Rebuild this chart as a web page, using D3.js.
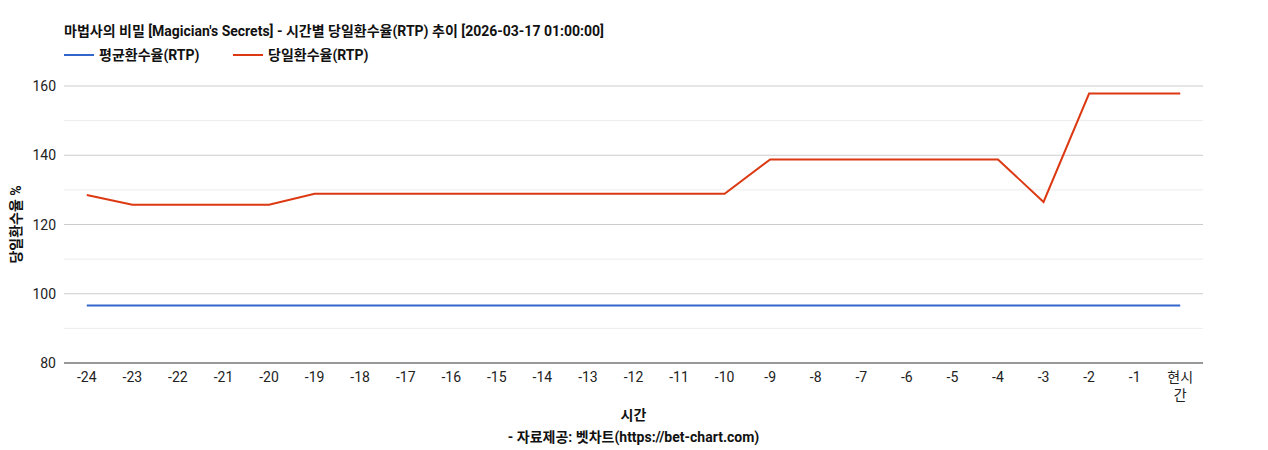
<!DOCTYPE html>
<html><head><meta charset="utf-8">
<script src="https://cdn.jsdelivr.net/npm/d3@7"></script>
<style>body{margin:0;background:#fff;font-family:Roboto,"Noto Sans CJK KR",sans-serif;}</style>
</head><body><div id="chart"></div>
<script>
var hours = ["-24","-23","-22","-21","-20","-19","-18","-17","-16","-15","-14","-13","-12","-11","-10","-9","-8","-7","-6","-5","-4","-3","-2","-1","현시간"];
var avgRtp = [96.6,96.6,96.6,96.6,96.6,96.6,96.6,96.6,96.6,96.6,96.6,96.6,96.6,96.6,96.6,96.6,96.6,96.6,96.6,96.6,96.6,96.6,96.6,96.6,96.6];
var dayRtp = [128.5,125.7,125.7,125.7,125.7,128.9,128.9,128.9,128.9,128.9,128.9,128.9,128.9,128.9,128.9,138.8,138.8,138.8,138.8,138.8,138.8,126.5,157.8,157.8,157.8];
var yTicks = [80,100,120,140,160];
var yMinor = [90,110,130,150];

var W = 1268, H = 450;
var margin = {top: 86, right: 65, bottom: 87, left: 64};
var svg = d3.select("#chart").append("svg").attr("width", W).attr("height", H);

var x = d3.scalePoint().domain(hours).range([margin.left, W - margin.right]).padding(0.5);
var y = d3.scaleLinear().domain([80,160]).range([H - margin.bottom, margin.top]);

// grid
svg.selectAll(".minor").data(yMinor).enter().append("line")
  .attr("x1", margin.left).attr("x2", W - margin.right)
  .attr("y1", d => y(d)).attr("y2", d => y(d)).attr("stroke", "#ececec");
svg.selectAll(".major").data(yTicks).enter().append("line")
  .attr("x1", margin.left).attr("x2", W - margin.right)
  .attr("y1", d => y(d)).attr("y2", d => y(d))
  .attr("stroke", d => d == 80 ? "#333" : "#cccccc");

svg.selectAll(".ylab").data(yTicks).enter().append("text")
  .attr("x", margin.left - 8).attr("y", d => y(d) + 5)
  .attr("text-anchor", "end").attr("font-size", 14).attr("fill", "#222").text(d => d);

// x labels
hours.forEach(function(h) {
  var t = svg.append("text").attr("x", x(h)).attr("y", H - margin.bottom + 19)
    .attr("text-anchor", "middle").attr("font-size", 14).attr("fill", "#222");
  if (h == "현시간") {
    t.append("tspan").attr("x", x(h)).text("현시");
    t.append("tspan").attr("x", x(h)).attr("dy", 18).text("간");
  } else t.text(h);
});

var line = d3.line().x((d, i) => x(hours[i])).y(d => y(d));
svg.append("path").datum(avgRtp).attr("d", line).attr("fill", "none").attr("stroke", "#3366cc").attr("stroke-width", 2);
svg.append("path").datum(dayRtp).attr("d", line).attr("fill", "none").attr("stroke", "#dc3912").attr("stroke-width", 2);

// title + legend
svg.append("text").attr("x", 64).attr("y", 36).attr("font-size", 14).attr("font-weight", "bold").attr("fill", "#111")
  .text("마법사의 비밀 [Magician's Secrets] - 시간별 당일환수율(RTP) 추이 [2026-03-17 01:00:00]");
var legend = [["평균환수율(RTP)", "#3366cc", 64], ["당일환수율(RTP)", "#dc3912", 233]];
legend.forEach(function(l) {
  svg.append("line").attr("x1", l[2]).attr("x2", l[2] + 30).attr("y1", 55).attr("y2", 55).attr("stroke", l[1]).attr("stroke-width", 2);
  svg.append("text").attr("x", l[2] + 35).attr("y", 60).attr("font-size", 14).attr("font-weight", "bold").attr("fill", "#111").text(l[0]);
});

svg.append("text").attr("transform", "translate(21," + ((margin.top + H - margin.bottom) / 2) + ") rotate(-90)")
  .attr("text-anchor", "middle").attr("font-size", 14).attr("font-weight", "bold").attr("fill", "#111").text("당일환수율 %");
svg.append("text").attr("x", (margin.left + W - margin.right) / 2).attr("y", 420).attr("text-anchor", "middle")
  .attr("font-size", 14).attr("font-weight", "bold").attr("fill", "#111").text("시간");
svg.append("text").attr("x", (margin.left + W - margin.right) / 2).attr("y", 442).attr("text-anchor", "middle")
  .attr("font-size", 14).attr("font-weight", "bold").attr("fill", "#111").text("- 자료제공: 벳차트(https://bet-chart.com)");
</script></body></html>
